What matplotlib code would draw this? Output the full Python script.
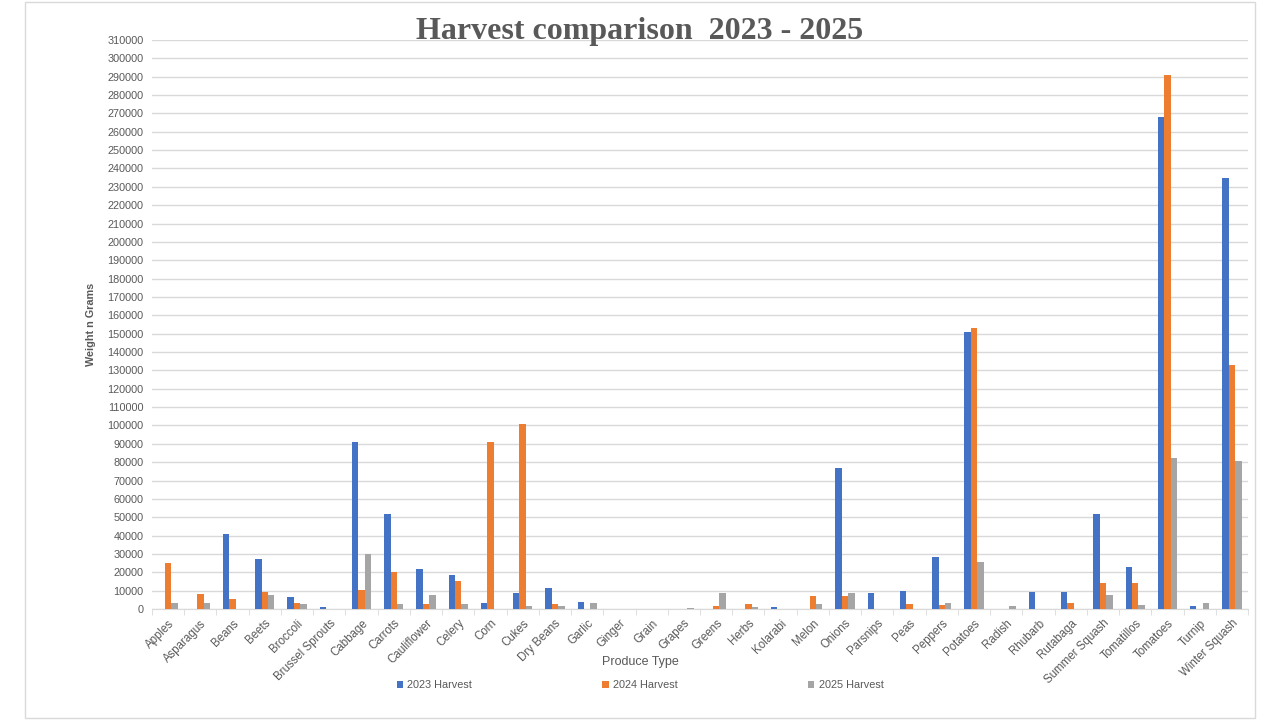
import matplotlib.pyplot as plt
import numpy as np
from matplotlib.patches import Rectangle

produce = ["Apples", "Asparagus", "Beans", "Beets", "Broccoli", "Brussel Sprouts",
           "Cabbage", "Carrots", "Cauliflower", "Celery", "Corn", "Cukes", "Dry Beans",
           "Garlic", "Ginger", "Grain", "Grapes", "Greens", "Herbs", "Kolarabi", "Melon",
           "Onions", "Parsnips", "Peas", "Peppers", "Potatoes", "Radish", "Rhubarb",
           "Rutabaga", "Summer Squash", "Tomatillos", "Tomatoes", "Turnip", "Winter Squash"]

harvest_2023 = [0, 0, 41000, 27000, 6500, 1000, 91000, 52000, 22000, 18500, 3000, 8500,
                11500, 4000, 0, 0, 0, 0, 0, 1000, 0, 77000, 8500, 10000, 28500, 151000,
                0, 9500, 9500, 51500, 23000, 268000, 1500, 235000]
harvest_2024 = [25000, 8000, 5500, 9000, 3000, 0, 10500, 20000, 2500, 15000, 91000, 101000,
                2500, 0, 0, 0, 0, 1500, 2500, 0, 7000, 7000, 0, 2500, 2000, 153000,
                0, 0, 3500, 14000, 14000, 291000, 0, 133000]
harvest_2025 = [3000, 3500, 0, 7500, 2500, 0, 30000, 2500, 7500, 2500, 0, 1500,
                1500, 3500, 0, 0, 500, 8500, 1000, 0, 2500, 8500, 0, 0, 3500, 25500,
                1500, 0, 0, 7500, 2000, 82000, 3500, 80500]

series = [("2023 Harvest", harvest_2023, "#4472C4"),
          ("2024 Harvest", harvest_2024, "#ED7D31"),
          ("2025 Harvest", harvest_2025, "#A5A5A5")]

txt = "#595959"
plt.rcParams['font.family'] = ['Liberation Sans', 'DejaVu Sans']

fig = plt.figure(figsize=(12.8, 7.2), dpi=100)
# outer chart border
fig.patches.append(Rectangle((25 / 1280, 2 / 720), 1230 / 1280, 716 / 720,
                             transform=fig.transFigure, fill=False,
                             edgecolor="#D9D9D9", linewidth=1))

ax = fig.add_axes([152 / 1280, 111 / 720, 1096 / 1280, 569 / 720])

x = np.arange(len(produce))
w = 0.2
for i, (name, vals, col) in enumerate(series):
    ax.bar(x + (i - 1) * w, vals, width=w, color=col, label=name, zorder=3)

ax.set_xlim(-0.5, len(produce) - 0.5)
ax.set_ylim(0, 310000)
ax.set_yticks(np.arange(0, 310001, 10000))
ax.yaxis.grid(True, color="#D9D9D9", linewidth=1, zorder=0)
ax.tick_params(axis="y", length=0, labelsize=7.8, labelcolor=txt, pad=6)

ax.set_xticks(x)
ax.set_xticklabels(produce, rotation=45, ha="right", rotation_mode="anchor",
                   fontsize=8.3, color=txt)
ax.set_xticks(np.arange(-0.5, len(produce)), minor=True)
ax.tick_params(axis="x", which="major", length=0, pad=6)
ax.tick_params(axis="x", which="minor", length=4, color="#D9D9D9")

for s in ["top", "right", "left"]:
    ax.spines[s].set_visible(False)
ax.spines["bottom"].set_color("#D9D9D9")

ax.set_ylabel("Weight n Grams", fontsize=7.8, fontweight="bold", color=txt, labelpad=8)
fig.text(640 / 1280, 1 - 662 / 720, "Produce Type", ha="center", va="center",
         fontsize=9, color=txt)

fig.text(0.5, 1 - 32 / 720, "Harvest comparison  2023 - 2025", ha="center", va="center",
         fontsize=23, fontweight="bold", color=txt, family="Liberation Serif")

fig.legend(loc="center", bbox_to_anchor=(0.5, 1 - 685 / 720), ncol=3, frameon=False,
           fontsize=7.8, labelcolor=txt, handlelength=0.6, handleheight=0.6,
           handletextpad=0.4, columnspacing=12)

fig.savefig("out.png", dpi=100)
